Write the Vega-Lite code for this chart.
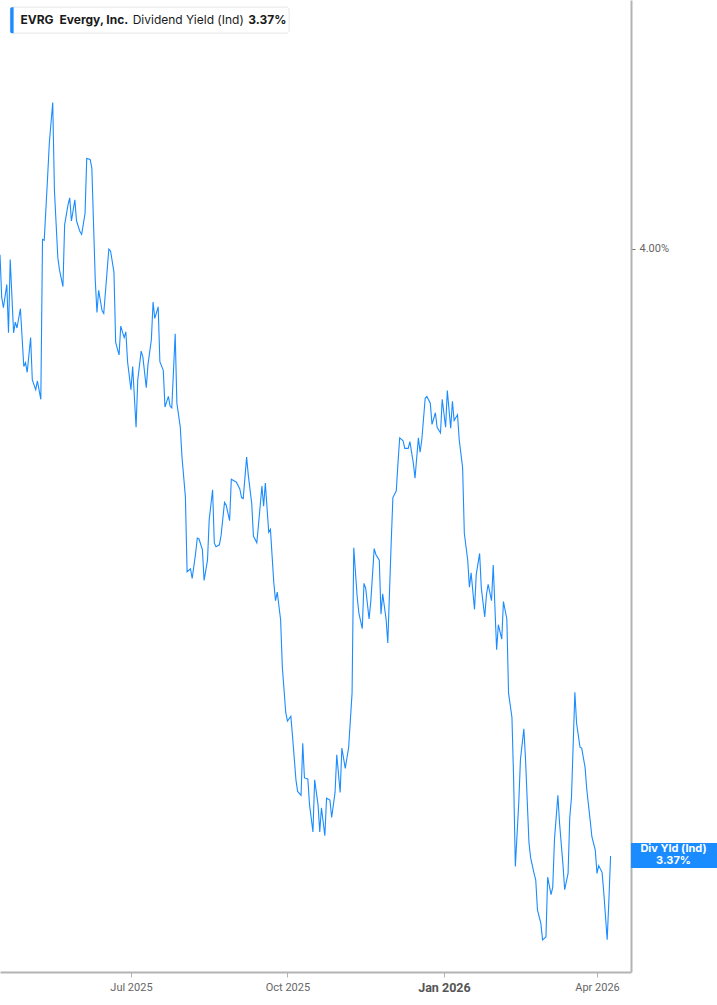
{
  "$schema": "https://vega.github.io/schema/vega-lite/v6.json",
  "width": 631,
  "height": 972,
  "autosize": {"type": "none"},
  "padding": {"left": 0, "top": 0, "right": 86, "bottom": 33},
  "background": "white",
  "config": {"view": {"stroke": null}, "font": "Inter"},
  "datasets": {
    "one": [{}],
    "series": [
      {"date":"2025-04-15","v":3.994},{"date":"2025-04-16","v":3.950},{"date":"2025-04-17","v":3.939},{"date":"2025-04-19","v":3.963},{"date":"2025-04-20","v":3.913},{"date":"2025-04-21","v":3.989},{"date":"2025-04-23","v":3.913},{"date":"2025-04-24","v":3.924},{"date":"2025-04-25","v":3.918},{"date":"2025-04-27","v":3.938},
      {"date":"2025-04-29","v":3.878},{"date":"2025-04-30","v":3.882},{"date":"2025-05-01","v":3.872},{"date":"2025-05-03","v":3.908},{"date":"2025-05-04","v":3.864},{"date":"2025-05-06","v":3.854},{"date":"2025-05-07","v":3.863},{"date":"2025-05-09","v":3.844},{"date":"2025-05-10","v":4.010},{"date":"2025-05-11","v":4.009},
      {"date":"2025-05-13","v":4.075},{"date":"2025-05-14","v":4.110},{"date":"2025-05-16","v":4.152},{"date":"2025-05-17","v":4.061},{"date":"2025-05-19","v":3.991},{"date":"2025-05-20","v":3.978},{"date":"2025-05-22","v":3.961},{"date":"2025-05-23","v":4.025},{"date":"2025-05-25","v":4.046},{"date":"2025-05-26","v":4.053},
      {"date":"2025-05-27","v":4.029},{"date":"2025-05-29","v":4.051},{"date":"2025-05-30","v":4.029},{"date":"2025-06-01","v":4.018},{"date":"2025-06-02","v":4.015},{"date":"2025-06-04","v":4.037},{"date":"2025-06-05","v":4.094},{"date":"2025-06-07","v":4.093},{"date":"2025-06-08","v":4.084},{"date":"2025-06-10","v":3.968},
      {"date":"2025-06-11","v":3.934},{"date":"2025-06-12","v":3.957},{"date":"2025-06-14","v":3.936},{"date":"2025-06-15","v":3.933},{"date":"2025-06-17","v":3.978},{"date":"2025-06-18","v":4.000},{"date":"2025-06-19","v":3.998},{"date":"2025-06-21","v":3.976},{"date":"2025-06-22","v":3.903},{"date":"2025-06-24","v":3.890},
      {"date":"2025-06-25","v":3.920},{"date":"2025-06-27","v":3.908},{"date":"2025-06-28","v":3.914},{"date":"2025-06-29","v":3.883},{"date":"2025-07-01","v":3.854},{"date":"2025-07-02","v":3.878},{"date":"2025-07-04","v":3.815},{"date":"2025-07-05","v":3.864},{"date":"2025-07-07","v":3.894},{"date":"2025-07-08","v":3.888},
      {"date":"2025-07-10","v":3.856},{"date":"2025-07-11","v":3.880},{"date":"2025-07-13","v":3.906},{"date":"2025-07-14","v":3.945},{"date":"2025-07-15","v":3.928},{"date":"2025-07-17","v":3.940},{"date":"2025-07-18","v":3.883},{"date":"2025-07-20","v":3.874},{"date":"2025-07-21","v":3.836},{"date":"2025-07-23","v":3.847},
      {"date":"2025-07-24","v":3.837},{"date":"2025-07-25","v":3.835},{"date":"2025-07-27","v":3.912},{"date":"2025-07-28","v":3.840},{"date":"2025-07-30","v":3.815},{"date":"2025-07-31","v":3.784},{"date":"2025-08-02","v":3.743},{"date":"2025-08-03","v":3.665},{"date":"2025-08-05","v":3.668},{"date":"2025-08-06","v":3.658},
      {"date":"2025-08-08","v":3.684},{"date":"2025-08-09","v":3.700},{"date":"2025-08-10","v":3.699},{"date":"2025-08-12","v":3.688},{"date":"2025-08-13","v":3.656},{"date":"2025-08-15","v":3.677},{"date":"2025-08-16","v":3.719},{"date":"2025-08-18","v":3.750},{"date":"2025-08-19","v":3.695},{"date":"2025-08-20","v":3.691},
      {"date":"2025-08-22","v":3.693},{"date":"2025-08-23","v":3.703},{"date":"2025-08-25","v":3.737},{"date":"2025-08-26","v":3.734},{"date":"2025-08-28","v":3.718},{"date":"2025-08-29","v":3.761},{"date":"2025-08-31","v":3.759},{"date":"2025-09-01","v":3.758},{"date":"2025-09-03","v":3.751},{"date":"2025-09-04","v":3.742},
      {"date":"2025-09-05","v":3.741},{"date":"2025-09-07","v":3.784},{"date":"2025-09-08","v":3.765},{"date":"2025-09-10","v":3.736},{"date":"2025-09-11","v":3.702},{"date":"2025-09-13","v":3.695},{"date":"2025-09-14","v":3.714},{"date":"2025-09-16","v":3.754},{"date":"2025-09-17","v":3.733},{"date":"2025-09-18","v":3.757},
      {"date":"2025-09-20","v":3.706},{"date":"2025-09-21","v":3.709},{"date":"2025-09-23","v":3.653},{"date":"2025-09-24","v":3.635},{"date":"2025-09-25","v":3.644},{"date":"2025-09-27","v":3.615},{"date":"2025-09-28","v":3.566},{"date":"2025-09-30","v":3.519},{"date":"2025-10-01","v":3.510},{"date":"2025-10-03","v":3.515},
      {"date":"2025-10-04","v":3.494},{"date":"2025-10-06","v":3.449},{"date":"2025-10-07","v":3.437},{"date":"2025-10-09","v":3.433},{"date":"2025-10-10","v":3.487},{"date":"2025-10-11","v":3.451},{"date":"2025-10-13","v":3.450},{"date":"2025-10-14","v":3.423},{"date":"2025-10-16","v":3.395},{"date":"2025-10-17","v":3.449},
      {"date":"2025-10-19","v":3.423},{"date":"2025-10-20","v":3.395},{"date":"2025-10-21","v":3.420},{"date":"2025-10-23","v":3.391},{"date":"2025-10-24","v":3.430},{"date":"2025-10-26","v":3.428},{"date":"2025-10-27","v":3.410},{"date":"2025-10-29","v":3.436},{"date":"2025-10-30","v":3.475},{"date":"2025-11-01","v":3.436},
      {"date":"2025-11-02","v":3.482},{"date":"2025-11-04","v":3.461},{"date":"2025-11-05","v":3.472},{"date":"2025-11-06","v":3.483},{"date":"2025-11-08","v":3.539},{"date":"2025-11-09","v":3.690},{"date":"2025-11-11","v":3.639},{"date":"2025-11-12","v":3.622},{"date":"2025-11-14","v":3.606},{"date":"2025-11-15","v":3.653},
      {"date":"2025-11-16","v":3.648},{"date":"2025-11-18","v":3.616},{"date":"2025-11-19","v":3.634},{"date":"2025-11-21","v":3.689},{"date":"2025-11-22","v":3.683},{"date":"2025-11-24","v":3.677},{"date":"2025-11-25","v":3.621},{"date":"2025-11-26","v":3.642},{"date":"2025-11-28","v":3.616},{"date":"2025-11-29","v":3.591},
      {"date":"2025-12-01","v":3.695},{"date":"2025-12-02","v":3.742},{"date":"2025-12-04","v":3.749},{"date":"2025-12-05","v":3.778},{"date":"2025-12-06","v":3.804},{"date":"2025-12-08","v":3.801},{"date":"2025-12-09","v":3.793},{"date":"2025-12-11","v":3.793},{"date":"2025-12-12","v":3.800},{"date":"2025-12-14","v":3.778},
      {"date":"2025-12-15","v":3.762},{"date":"2025-12-17","v":3.804},{"date":"2025-12-18","v":3.789},{"date":"2025-12-19","v":3.802},{"date":"2025-12-21","v":3.845},{"date":"2025-12-22","v":3.847},{"date":"2025-12-24","v":3.840},{"date":"2025-12-25","v":3.818},{"date":"2025-12-27","v":3.830},{"date":"2025-12-28","v":3.815},
      {"date":"2025-12-30","v":3.809},{"date":"2025-12-31","v":3.844},{"date":"2026-01-02","v":3.815},{"date":"2026-01-03","v":3.853},{"date":"2026-01-05","v":3.814},{"date":"2026-01-06","v":3.842},{"date":"2026-01-07","v":3.822},{"date":"2026-01-09","v":3.828},{"date":"2026-01-10","v":3.802},{"date":"2026-01-12","v":3.773},
      {"date":"2026-01-13","v":3.705},{"date":"2026-01-15","v":3.677},{"date":"2026-01-16","v":3.649},{"date":"2026-01-17","v":3.664},{"date":"2026-01-19","v":3.626},{"date":"2026-01-20","v":3.662},{"date":"2026-01-22","v":3.684},{"date":"2026-01-23","v":3.648},{"date":"2026-01-25","v":3.618},{"date":"2026-01-26","v":3.641},
      {"date":"2026-01-27","v":3.652},{"date":"2026-01-29","v":3.635},{"date":"2026-01-30","v":3.672},{"date":"2026-02-01","v":3.584},{"date":"2026-02-02","v":3.610},{"date":"2026-02-04","v":3.595},{"date":"2026-02-05","v":3.634},{"date":"2026-02-07","v":3.616},{"date":"2026-02-08","v":3.539},{"date":"2026-02-10","v":3.514},
      {"date":"2026-02-11","v":3.449},{"date":"2026-02-12","v":3.359},{"date":"2026-02-14","v":3.425},{"date":"2026-02-15","v":3.470},{"date":"2026-02-17","v":3.502},{"date":"2026-02-18","v":3.470},{"date":"2026-02-20","v":3.384},{"date":"2026-02-21","v":3.368},{"date":"2026-02-23","v":3.352},{"date":"2026-02-24","v":3.345},
      {"date":"2026-02-25","v":3.314},{"date":"2026-02-27","v":3.300},{"date":"2026-02-28","v":3.283},{"date":"2026-03-02","v":3.286},{"date":"2026-03-03","v":3.348},{"date":"2026-03-05","v":3.330},{"date":"2026-03-06","v":3.338},{"date":"2026-03-07","v":3.387},{"date":"2026-03-09","v":3.433},{"date":"2026-03-10","v":3.404},
      {"date":"2026-03-12","v":3.361},{"date":"2026-03-13","v":3.335},{"date":"2026-03-15","v":3.352},{"date":"2026-03-16","v":3.410},{"date":"2026-03-17","v":3.431},{"date":"2026-03-19","v":3.540},{"date":"2026-03-20","v":3.508},{"date":"2026-03-22","v":3.483},{"date":"2026-03-23","v":3.482},{"date":"2026-03-25","v":3.462},
      {"date":"2026-03-26","v":3.439},{"date":"2026-03-28","v":3.407},{"date":"2026-03-29","v":3.390},{"date":"2026-03-31","v":3.376},{"date":"2026-04-01","v":3.352},{"date":"2026-04-02","v":3.360},{"date":"2026-04-04","v":3.353},{"date":"2026-04-05","v":3.332},{"date":"2026-04-07","v":3.283},{"date":"2026-04-08","v":3.324},
      {"date":"2026-04-09","v":3.370}
    ]
  },
  "layer": [
    {
      "data": {"name": "series"},
      "mark": {"type": "line", "color": "#1a8cff", "strokeWidth": 1.1, "interpolate": "linear"},
      "encoding": {
        "x": {
          "field": "date", "type": "temporal",
          "scale": {"type": "utc", "domain": [{"year": 2025, "month": 4, "date": 15, "utc": true}, {"year": 2026, "month": 4, "date": 21, "utc": true}]},
          "axis": {
            "title": null, "grid": false,
            "values": [{"year": 2025, "month": 7, "date": 1, "utc": true}, {"year": 2025, "month": 10, "date": 1, "utc": true}, {"year": 2026, "month": 1, "date": 1, "utc": true}, {"year": 2026, "month": 4, "date": 1, "utc": true}],
            "labelExpr": "utcFormat(datum.value, '%b %Y')",
            "labelFont": "Roboto",
            "labelFontSize": {"condition": {"test": "utcmonth(datum.value) == 0", "value": 12.5}, "value": 11},
            "labelFontWeight": {"condition": {"test": "utcmonth(datum.value) == 0", "value": "bold"}, "value": "normal"},
            "labelColor": {"condition": {"test": "utcmonth(datum.value) == 0", "value": "#555555"}, "value": "#666666"},
            "labelPadding": 4,
            "domainColor": "#b3b3b3", "domainWidth": 2,
            "tickColor": "#b3b3b3", "tickSize": 5, "tickWidth": 1
          }
        },
        "y": {
          "field": "v", "type": "quantitative",
          "scale": {"domain": [3.2496, 4.2584], "zero": false, "nice": false},
          "axis": {
            "orient": "right", "title": null, "grid": false,
            "values": [4],
            "labelExpr": "format(datum.value, '.2f') + '%'",
            "labelFont": "Roboto", "labelFontSize": 11, "labelColor": "#666666",
            "labelPadding": 4,
            "domainColor": "#b3b3b3", "domainWidth": 2,
            "tickColor": "#777777", "tickSize": 4, "tickWidth": 1
          }
        }
      }
    },
    {
      "data": {"name": "one"},
      "mark": {"type": "rect", "fill": "white", "stroke": "#e6e6e6", "strokeWidth": 1, "cornerRadius": 3, "clip": false},
      "encoding": {
        "x": {"datum": {"year": 2025, "month": 4, "date": 21, "utc": true}, "type": "temporal"},
        "x2": {"datum": {"year": 2025, "month": 10, "date": 2, "utc": true}},
        "y": {"datum": 4.251, "type": "quantitative"},
        "y2": {"datum": 4.224}
      }
    },
    {
      "data": {"name": "one"},
      "mark": {"type": "rect", "fill": "#1a8cff", "cornerRadiusTopLeft": 2, "cornerRadiusBottomLeft": 2, "clip": false},
      "encoding": {
        "x": {"datum": {"year": 2025, "month": 4, "date": 21, "utc": true}, "type": "temporal"},
        "x2": {"datum": {"year": 2025, "month": 4, "date": 23, "utc": true}},
        "y": {"datum": 4.251, "type": "quantitative"},
        "y2": {"datum": 4.224}
      }
    },
    {
      "data": {"name": "one"},
      "mark": {"type": "text", "text": "EVRG", "font": "Inter", "fontSize": 12, "fontWeight": "bold", "color": "#1a1a1a", "align": "left", "baseline": "middle", "clip": false},
      "encoding": {
        "x": {"datum": {"year": 2025, "month": 4, "date": 27, "utc": true}, "type": "temporal"},
        "y": {"datum": 4.2375, "type": "quantitative"}
      }
    },
    {
      "data": {"name": "one"},
      "mark": {"type": "text", "text": "Evergy, Inc.", "font": "Inter", "fontSize": 12, "fontWeight": "bold", "color": "#1a1a1a", "align": "left", "baseline": "middle", "clip": false},
      "encoding": {
        "x": {"datum": {"year": 2025, "month": 5, "date": 20, "utc": true}, "type": "temporal"},
        "y": {"datum": 4.2375, "type": "quantitative"}
      }
    },
    {
      "data": {"name": "one"},
      "mark": {"type": "text", "text": "Dividend Yield (Ind)", "font": "Inter", "fontSize": 12, "fontWeight": "normal", "color": "#1a1a1a", "align": "left", "baseline": "middle", "clip": false},
      "encoding": {
        "x": {"datum": {"year": 2025, "month": 7, "date": 2, "utc": true}, "type": "temporal"},
        "y": {"datum": 4.2375, "type": "quantitative"}
      }
    },
    {
      "data": {"name": "one"},
      "mark": {"type": "text", "text": "3.37%", "font": "Inter", "fontSize": 12, "fontWeight": "bold", "color": "#1a1a1a", "align": "left", "baseline": "middle", "clip": false},
      "encoding": {
        "x": {"datum": {"year": 2025, "month": 9, "date": 8, "utc": true}, "type": "temporal"},
        "y": {"datum": 4.2375, "type": "quantitative"}
      }
    },
    {
      "data": {"name": "one"},
      "mark": {"type": "rect", "fill": "#1a8cff", "clip": false},
      "encoding": {
        "x": {"datum": {"year": 2026, "month": 4, "date": 21, "utc": true}, "type": "temporal"},
        "x2": {"datum": {"year": 2026, "month": 6, "date": 11, "utc": true}},
        "y": {"datum": 3.3835, "type": "quantitative"},
        "y2": {"datum": 3.3576}
      }
    },
    {
      "data": {"name": "one"},
      "mark": {"type": "text", "text": "Div Yld (Ind)\n3.37%", "lineBreak": "\n", "lineHeight": 12, "font": "Inter", "fontSize": 11, "fontWeight": "bold", "color": "white", "align": "center", "baseline": "middle", "clip": false},
      "encoding": {
        "x": {"datum": {"year": 2026, "month": 5, "date": 16, "utc": true}, "type": "temporal"},
        "y": {"datum": 3.3768, "type": "quantitative"}
      }
    }
  ]
}
